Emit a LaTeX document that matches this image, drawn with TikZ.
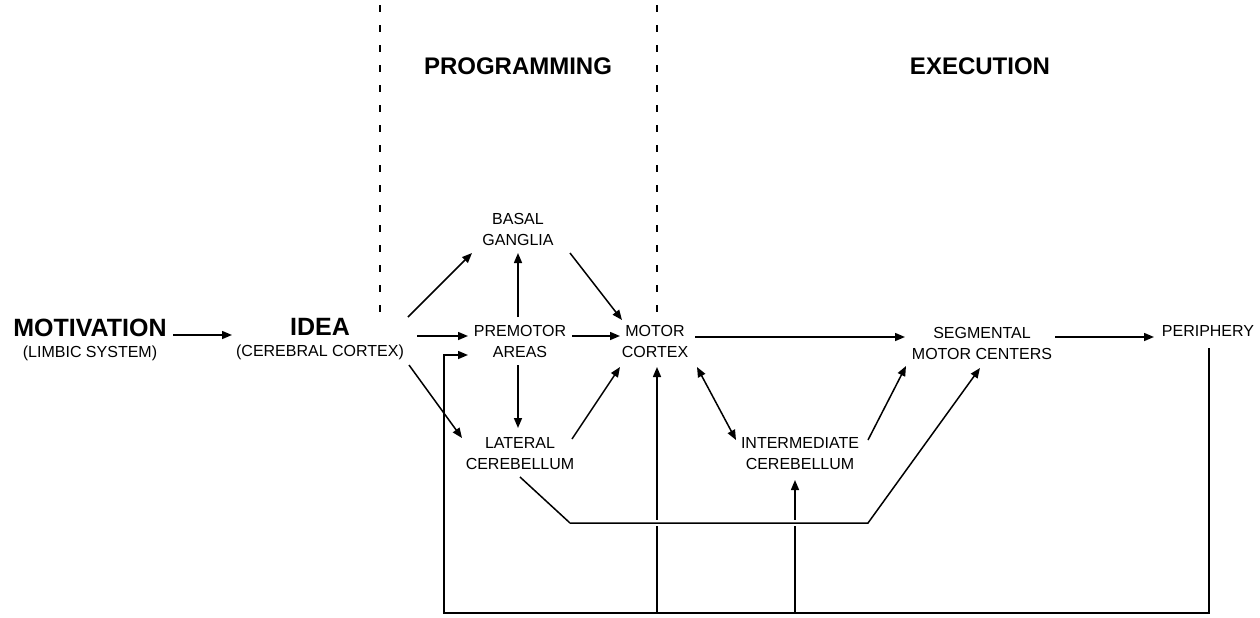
\documentclass[tikz,border=0pt]{standalone}
\usepackage{fontspec}
\setmainfont{Liberation Sans}
\usetikzlibrary{arrows.meta,calc}
\begin{document}
\begin{tikzpicture}[x=0.5pt,y=-0.5pt, line width=0.75pt,
  lbl/.style={inner sep=0pt, anchor=north, align=center, font=\fontsize{8}{10.5}\selectfont},
  head/.style={inner sep=0pt, anchor=north, font=\fontsize{12}{14}\selectfont\bfseries},
  arr/.style={-{Triangle[length=5pt,width=4pt]}},
  darr/.style={{Triangle[length=5pt,width=4pt]}-{Triangle[length=5pt,width=4pt]}},
  divider/.style={line width=0.55pt, dash pattern=on 3.5pt off 6.5pt},
  line/.style={line width=0.75pt}]
\useasboundingbox (0,0) rectangle (1260,617);

% section headings
\node[head] (prog) at (518,57) {PROGRAMMING};
\node[head] (exec) at (980,57) {EXECUTION};

% dividers
\coordinate (d1t) at (380,5);  \coordinate (d1b) at (380,313);
\coordinate (d2t) at (657,5);  \coordinate (d2b) at (657,317);
\draw[divider] (d1t) -- (d1b);
\draw[divider] (d2t) -- (d2b);

% nodes
\node[lbl] (motivation) at (90,318) {{\fontsize{12.5}{10.5}\selectfont\bfseries MOTIVATION}\\(LIMBIC SYSTEM)};
\node[lbl] (idea) at (320,318) {{\fontsize{12.5}{10.5}\selectfont\bfseries IDEA}\\(CEREBRAL CORTEX)};
\node[lbl] (basal) at (518,213) {BASAL\\GANGLIA};
\node[lbl] (premotor) at (520,325) {PREMOTOR\\AREAS};
\node[lbl] (motor) at (655,325) {MOTOR\\CORTEX};
\node[lbl] (lateral) at (520,437) {LATERAL\\CEREBELLUM};
\node[lbl] (seg) at (982,327) {SEGMENTAL\\MOTOR CENTERS};
\node[lbl] (periph) at (1208,325) {PERIPHERY};
\node[lbl] (inter) at (800,437) {INTERMEDIATE\\CEREBELLUM};

% connectors
\draw[arr] ($(motivation.north)+(83,17)$) -- ($(idea.north)+(-88,17)$);
\draw[arr] ($(idea.north)+(88,-1)$) -- ($(basal.north)+(-46,40)$);
\draw[arr] ($(idea.north)+(97,18)$) -- ($(premotor.north)+(-52,11)$);
\draw[arr] ($(idea.north)+(89,47)$) -- ($(lateral.north)+(-58,1)$);
\draw[arr] ($(premotor.north)+(-2,-8)$) -- ($(basal.north)+(0,40)$);
\draw[arr] ($(premotor.north)+(-2,40)$) -- ($(lateral.north)+(-2,-9)$);
\draw[arr] ($(basal.north)+(52,40)$) -- ($(motor.north)+(-33,-5)$);
\draw[arr] ($(premotor.north)+(52,11)$) -- ($(motor.north)+(-35,11)$);
\draw[arr] ($(lateral.north)+(52,2)$) -- ($(motor.north)+(-35,42)$);
\draw[arr] ($(motor.north)+(40,12)$) -- ($(seg.north)+(-77,10)$);
\draw[arr] ($(seg.north)+(73,10)$) -- ($(periph.north)+(-54,12)$);
\draw[darr] ($(motor.north)+(42,42)$) -- ($(inter.north)+(-64,3)$);
\draw[arr] ($(inter.north)+(68,3)$) -- ($(seg.north)+(-76,39)$);

% feedback loop from periphery
\coordinate (br) at (1209,613);
\coordinate (bl) at (444,613);
\coordinate (bm) at (657,613);
\coordinate (bi) at (795,613);
\coordinate (fl) at (444,355);
\draw[arr] ($(periph.north)+(1,23)$) -- (br) -- (bl) -- (fl) -- ($(premotor.north)+(-52,30)$);
\draw[arr] (bm) -- ($(motor.north)+(2,42)$);
\draw[arr] (bi) -- ($(inter.north)+(-5,43)$);

% lateral cerebellum to segmental centers
\coordinate (t1) at (570,523);
\coordinate (t2) at (868,523);
\draw[line] ($(lateral.north)+(0,40)$) -- (t1);
\draw[white, line width=3pt] (t1) -- (t2);
\draw[arr] (t1) -- (t2) -- ($(seg.north)+(-2,41)$);
\end{tikzpicture}
\end{document}
